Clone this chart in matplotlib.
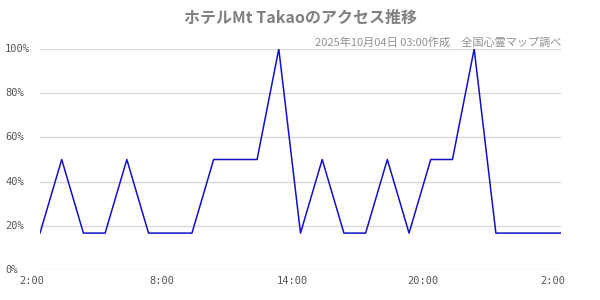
import matplotlib
matplotlib.use("Agg")
import matplotlib.pyplot as plt
import matplotlib.transforms as mtransforms
from matplotlib.transforms import offset_copy

plt.rcParams['font.family'] = ['Noto Sans CJK JP', 'DejaVu Sans']

title = "ホテルMt Takaoのアクセス推移"
subtitle = "2025年10月04日 03:00作成　全国心霊マップ調べ"
hours = list(range(25))  # 2:00 .. 2:00 next day, hourly
values = [16.7, 50, 16.7, 16.7, 50, 16.7, 16.7, 16.7, 50, 50, 50, 100,
          16.7, 50, 16.7, 16.7, 50, 16.7, 50, 50, 100, 16.7, 16.7, 16.7, 16.7]
xtick_pos = [0, 6, 12, 18, 24]
xtick_labels = ["2:00", "8:00", "14:00", "20:00", "2:00"]
ytick_pos = [0, 20, 40, 60, 80, 100]
ytick_labels = ["0%", "20%", "40%", "60%", "80%", "100%"]

fig = plt.figure(figsize=(6, 3), dpi=100)
ax = fig.add_axes([40/600, 1-270/300, 521/600, 221/300])

for y in ytick_pos:
    ax.axhline(y, color='#d9d9d9', lw=1, zorder=1)

ax.plot(hours, values, color='#1010c8', lw=1.1, zorder=3)

ax.set_xlim(0, 24)
ax.set_ylim(0, 100)
for s in ax.spines.values():
    s.set_visible(False)
ax.set_xticks([])
ax.set_yticks([])

tick_color = '#555555'
for xp, lab in zip(xtick_pos, xtick_labels):
    tr = offset_copy(ax.get_xaxis_transform(), fig=fig, x=-8, y=-11, units='dots')
    ax.text(xp, 0, lab, transform=tr, ha='center', va='center',
            fontsize=7.5, color=tick_color, family='DejaVu Sans Mono')

blend = mtransforms.blended_transform_factory(fig.transFigure, ax.transData)
for yp, lab in zip(ytick_pos, ytick_labels):
    fig.text(5/600, yp, lab, transform=blend, ha='left', va='center',
             fontsize=7.5, color=tick_color, family='DejaVu Sans Mono')

fig.text(0.5, 1-18/300, title, ha='center', va='center', fontsize=11.5,
         color='#808080', fontweight='bold')
fig.text(561/600, 1-42/300, subtitle, ha='right', va='center', fontsize=8,
         color='#909090')

fig.savefig('out.png', dpi=100)
